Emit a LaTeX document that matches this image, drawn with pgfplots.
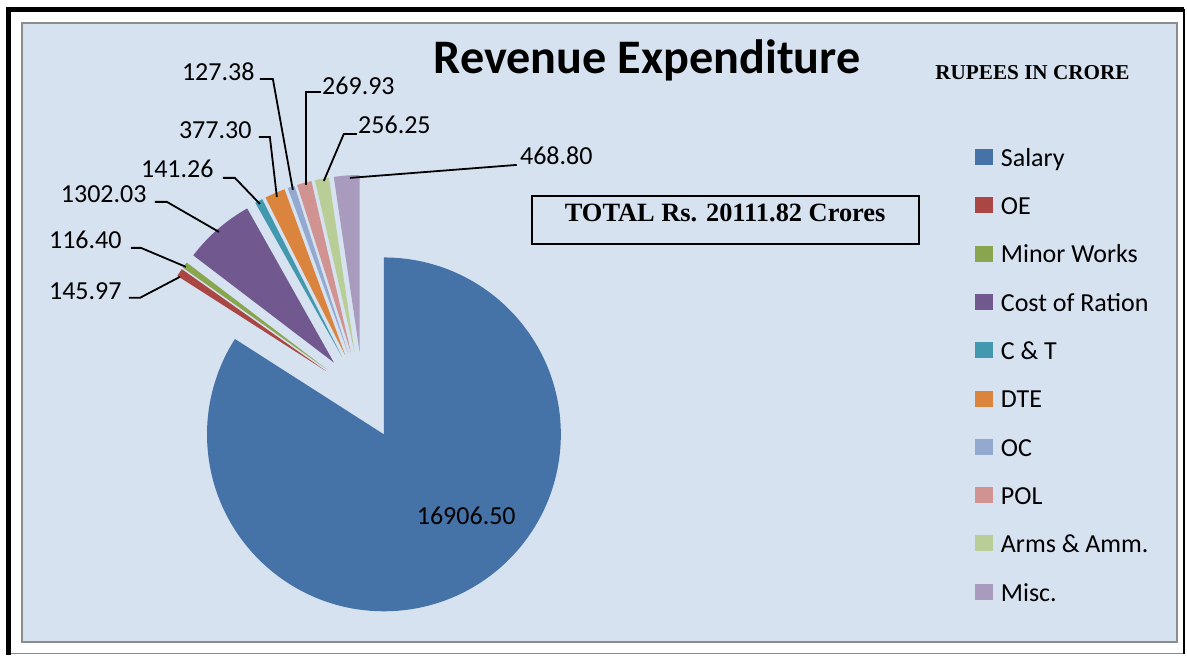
\documentclass[border=0pt]{standalone}
\usepackage{pgfplots}
\pgfplotsset{compat=1.18}
\usepackage{pgfplotstable}
\usepackage{fontspec}
\setmainfont{Carlito}
\newfontfamily\timesfont{Liberation Serif}

\definecolor{c0}{HTML}{4572A7}
\definecolor{c1}{HTML}{AA4643}
\definecolor{c2}{HTML}{89A54E}
\definecolor{c3}{HTML}{71588F}
\definecolor{c4}{HTML}{4198AF}
\definecolor{c5}{HTML}{DB843D}
\definecolor{c6}{HTML}{93A9CF}
\definecolor{c7}{HTML}{D19392}
\definecolor{c8}{HTML}{B9CD96}
\definecolor{c9}{HTML}{A99BBD}
\definecolor{bgblue}{RGB}{214,226,240}
\definecolor{framegray}{RGB}{140,140,140}

% Revenue expenditure (Rs. crore), in Excel order, starting at 12 o'clock, clockwise
\pgfplotstableread{
value
16906.50
145.97
116.40
1302.03
141.26
377.30
127.38
269.93
256.25
468.80
}\datatable

\pgfplotsset{sqleg/.style={legend image code/.code={\fill[##1, draw=none] (0pt,-4pt) rectangle (9pt,4pt);}}}
\tikzset{lab/.style={inner sep=0pt, font=\fontsize{13}{15.6}\selectfont}}

\begin{document}
\begin{tikzpicture}
\begin{axis}[
  hide axis, scale only axis,
  width=593.5pt, height=327.5pt,
  xmin=0, xmax=1187, ymin=0, ymax=655,
  clip=false,
  legend style={at={(axis cs:975,510.8)}, anchor=north west, draw=none, fill=none,
    inner sep=0pt, row sep=11.75pt, column sep=4pt, nodes={inner sep=0pt},
    font=\fontsize{13}{15.6}\selectfont},
  legend cell align=left,
]
% canvas and frames
\path (axis cs:0,0) rectangle (axis cs:1187,655);
\fill[white] (axis cs:0,0) rectangle (axis cs:1187,655);
\draw[framegray, line width=0.6pt] (axis cs:8,1) -- (axis cs:1185,1);
\draw[black, line width=0.8pt] (axis cs:1184.5,645.5) -- (axis cs:1184.5,1);
\draw[black, line width=2.6pt] (axis cs:8.5,0) -- (axis cs:8.5,645.5) -- (axis cs:1185,645.5);
\filldraw[fill=bgblue, draw=framegray, line width=1pt] (axis cs:22.5,632) rectangle (axis cs:1178,12.5);

% total
\edef\total{0}
\pgfplotsforeachungrouped \i in {0,...,9}{%
  \pgfplotstablegetelem{\i}{value}\of\datatable
  \edef\total{\fpeval{\total+\pgfplotsretval}}%
}
% pie slices (all exploded)
\edef\cum{0}
\pgfplotsforeachungrouped \i in {0,...,9}{%
  \pgfplotstablegetelem{\i}{value}\of\datatable
  \edef\aS{\fpeval{90-\cum*360/\total}}%
  \edef\cum{\fpeval{\cum+\pgfplotsretval}}%
  \edef\aE{\fpeval{90-\cum*360/\total}}%
  \edef\px{\fpeval{363+44*cosd((\aS+\aE)/2)}}%
  \edef\py{\fpeval{259+44*sind((\aS+\aE)/2)}}%
  \edef\cmd{\noexpand\fill[c\i] (axis cs:\px,\py) -- ++(\aS:88.5pt) arc[start angle=\aS, end angle=\aE, radius=88.5pt] -- cycle;}%
  \cmd
}

% leader lines
\draw[black, line width=0.9pt] (axis cs:260,576) -- (axis cs:273,576) -- (axis cs:293,465);
\draw[black, line width=0.9pt] (axis cs:259,518) -- (axis cs:270,518) -- (axis cs:277,458);
\draw[black, line width=0.9pt] (axis cs:223,477) -- (axis cs:235,477) -- (axis cs:260,451);
\draw[black, line width=0.9pt] (axis cs:155,453) -- (axis cs:167,453) -- (axis cs:219,423);
\draw[black, line width=0.9pt] (axis cs:131,407) -- (axis cs:141,407) -- (axis cs:186,388);
\draw[black, line width=0.9pt] (axis cs:129,357) -- (axis cs:140,357) -- (axis cs:180,378);
\draw[black, line width=0.9pt] (axis cs:321,563) -- (axis cs:306,563) -- (axis cs:306,470);
\draw[black, line width=0.9pt] (axis cs:357,521) -- (axis cs:344,521) -- (axis cs:324,474);
\draw[black, line width=0.9pt] (axis cs:517,490) -- (axis cs:350,477);

% data labels
\node[lab, anchor=base east] at (axis cs:255,574) {127.38};
\node[lab, anchor=base east] at (axis cs:252,516) {377.30};
\node[lab, anchor=base east] at (axis cs:214,477) {141.26};
\node[lab, anchor=base east] at (axis cs:147,452) {1302.03};
\node[lab, anchor=base east] at (axis cs:122,406) {116.40};
\node[lab, anchor=base east] at (axis cs:122,355) {145.97};
\node[lab, anchor=base west] at (axis cs:322,560) {269.93};
\node[lab, anchor=base west] at (axis cs:358,521) {256.25};
\node[lab, anchor=base west] at (axis cs:520,490) {468.80};
\node[lab, anchor=base] at (axis cs:466.5,130) {16906.50};

% titles
\node[anchor=base, inner sep=0pt, font=\fontsize{24.1}{29}\selectfont\bfseries] at (axis cs:647.5,581) {Revenue Expenditure};
\node[anchor=base, inner sep=0pt, font=\timesfont\bfseries\fontsize{10.6}{13}\selectfont] at (axis cs:1033,575) {RUPEES IN CRORE};
\draw[black, line width=1pt] (axis cs:532,459) rectangle (axis cs:919,411);
\node[anchor=base, inner sep=0pt, font=\timesfont\bfseries\fontsize{13.2}{16}\selectfont] at (axis cs:725.5,433) {TOTAL Rs. 20111.82 Crores};

% legend
\addlegendimage{sqleg, fill=c0}\addlegendentry{\strut Salary}
\addlegendimage{sqleg, fill=c1}\addlegendentry{\strut OE}
\addlegendimage{sqleg, fill=c2}\addlegendentry{\strut Minor Works}
\addlegendimage{sqleg, fill=c3}\addlegendentry{\strut Cost of Ration}
\addlegendimage{sqleg, fill=c4}\addlegendentry{\strut C \& T}
\addlegendimage{sqleg, fill=c5}\addlegendentry{\strut DTE}
\addlegendimage{sqleg, fill=c6}\addlegendentry{\strut OC}
\addlegendimage{sqleg, fill=c7}\addlegendentry{\strut POL}
\addlegendimage{sqleg, fill=c8}\addlegendentry{\strut Arms \& Amm.}
\addlegendimage{sqleg, fill=c9}\addlegendentry{\strut Misc.}
\end{axis}
\end{tikzpicture}
\end{document}
